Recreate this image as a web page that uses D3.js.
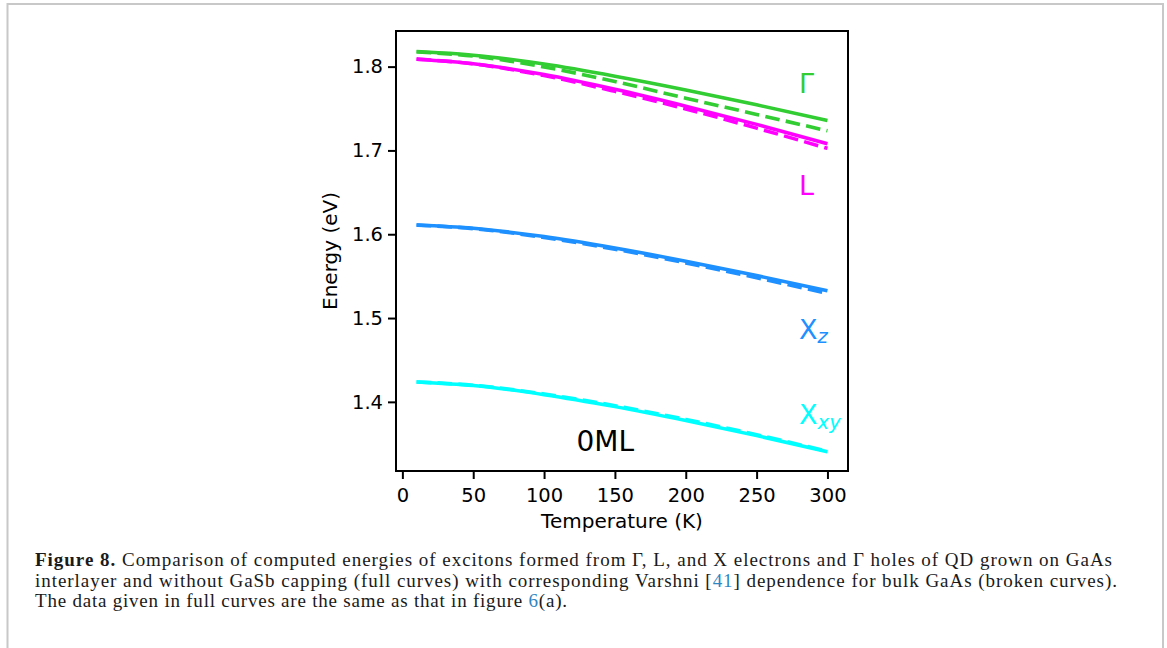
<!DOCTYPE html>
<html>
<head>
<meta charset="utf-8">
<script src="https://cdn.jsdelivr.net/npm/d3@7"></script>
<style>
  html, body { margin: 0; padding: 0; background: #fff; }
  svg { display: block; }
</style>
</head>
<body>
<svg id="chart" width="1167" height="648"></svg>
<script>
// ---------------- data ----------------
const temperatures = [10, 50, 100, 150, 200, 250, 300];

const gammaFull     = [1.8179, 1.8136, 1.8030, 1.7886, 1.7722, 1.7544, 1.7357];
const gammaVarshni  = [1.8176, 1.8126, 1.7996, 1.7822, 1.7624, 1.7430, 1.7234];
const lFull         = [1.8088, 1.8035, 1.7905, 1.7729, 1.7528, 1.7311, 1.7080];
const lVarshni      = [1.8090, 1.8033, 1.7893, 1.7705, 1.7495, 1.7266, 1.7025];
const xzFull        = [1.6110, 1.6071, 1.5972, 1.5835, 1.5678, 1.5507, 1.5325];
const xzVarshni     = [1.6110, 1.6067, 1.5961, 1.5821, 1.5658, 1.5481, 1.5293];
const xxyFull       = [1.4238, 1.4194, 1.4086, 1.3943, 1.3777, 1.3597, 1.3405];
const xxyVarshni    = [1.4238, 1.4198, 1.4094, 1.3954, 1.3790, 1.3608, 1.3410];

const xTicks = [0, 50, 100, 150, 200, 250, 300];
const yTicks = [1.4, 1.5, 1.6, 1.7, 1.8];

const seriesNames  = ["Γ", "L", "X", "X"];
const seriesSubs   = ["", "", "z", "xy"];
const seriesColors = ["#32cd32", "#ff00ff", "#1e90ff", "#00ffff"];
const fullSeries    = [gammaFull, lFull, xzFull, xxyFull];
const varshniSeries = [gammaVarshni, lVarshni, xzVarshni, xxyVarshni];

// label anchors (data coordinates)
const labelT = [280, 280, 280, 280];
const labelE = [1.7683, 1.6473, 1.4755, 1.3731];

const panelText = "0ML";
const panelT = 122.9, panelE = 1.3417;

const captionLines = [
  [{t: "Figure 8.", b: true}, {t: " Comparison of computed energies of excitons formed from Γ, L, and X electrons and Γ holes of QD grown on GaAs"}],
  [{t: "interlayer and without GaSb capping (full curves) with corresponding Varshni ["}, {t: "41", link: true}, {t: "] dependence for bulk GaAs (broken curves)."}],
  [{t: "The data given in full curves are the same as that in figure "}, {t: "6", link: true}, {t: "(a)."}]
];

// ---------------- layout ----------------
const svg = d3.select("#chart");
svg.append("rect").attr("width", 1167).attr("height", 648).attr("fill", "#fff");
svg.append("rect")
  .attr("x", 7.5).attr("y", 4).attr("width", 1155.5).attr("height", 700)
  .attr("fill", "none").attr("stroke", "#c8c8c8").attr("stroke-width", 2);

const L = 396, R = 848, T = 31, B = 471;
const x = d3.scaleLinear().domain([-4.5, 314.5]).range([L, R]);
const y = d3.scaleLinear().domain([1.3175, 1.8425]).range([B, T]);

const font = "DejaVu Sans, Verdana, sans-serif";
const g = svg.append("g");

// curves
const line = d3.line()
  .x((d, i) => x(temperatures[i]))
  .y(d => y(d))
  .curve(d3.curveMonotoneX);

for (let s = 0; s < fullSeries.length; s++) {
  g.append("path")
    .attr("d", line(fullSeries[s]))
    .attr("fill", "none")
    .attr("stroke", seriesColors[s])
    .attr("stroke-width", 3.5);
  g.append("path")
    .attr("d", line(varshniSeries[s]))
    .attr("fill", "none")
    .attr("stroke", seriesColors[s])
    .attr("stroke-width", 3.6)
    .attr("stroke-dasharray", "14.6,6.3");
}

// frame
g.append("rect")
  .attr("x", L).attr("y", T).attr("width", R - L).attr("height", B - T)
  .attr("fill", "none").attr("stroke", "#000").attr("stroke-width", 2);

// axes
const xAxis = d3.axisBottom(x).tickValues(xTicks).tickFormat(d3.format("d")).tickSize(8).tickPadding(9);
const yAxis = d3.axisLeft(y).tickValues(yTicks).tickFormat(d3.format(".1f")).tickSize(8).tickPadding(5);

const gx = svg.append("g").attr("transform", `translate(0,${B})`).call(xAxis);
const gy = svg.append("g").attr("transform", `translate(${L},0)`).call(yAxis);
[gx, gy].forEach(a => {
  a.select(".domain").remove();
  a.selectAll(".tick line").attr("stroke", "#000").attr("stroke-width", 2);
  a.selectAll(".tick text").attr("fill", "#000").style("font-family", font).style("font-size", "19.5px");
});

// axis titles
svg.append("text")
  .attr("x", (L + R) / 2).attr("y", 528)
  .attr("text-anchor", "middle")
  .style("font-family", font).style("font-size", "20px")
  .text("Temperature (K)");
svg.append("text")
  .attr("transform", `translate(337,${(T + B) / 2}) rotate(-90)`)
  .attr("text-anchor", "middle")
  .style("font-family", font).style("font-size", "20px")
  .text("Energy (eV)");

// series labels
for (let s = 0; s < seriesNames.length; s++) {
  const t = svg.append("text")
    .attr("x", x(labelT[s])).attr("y", y(labelE[s]))
    .attr("fill", seriesColors[s])
    .style("font-family", font).style("font-size", "27px");
  t.append("tspan").text(seriesNames[s]);
  if (seriesSubs[s]) {
    t.append("tspan").attr("dy", 4.5).style("font-size", "19.5px").style("font-style", "italic").text(seriesSubs[s]);
  }
}

// panel text
svg.append("text")
  .attr("x", x(panelT)).attr("y", y(panelE))
  .style("font-family", font).style("font-size", "28px")
  .text(panelText);

// caption
const capY = [565.5, 586.5, 607];
const capEnd = [1112, 1117, 567];
captionLines.forEach((parts, i) => {
  const t = svg.append("text")
    .attr("x", 35).attr("y", capY[i])
    .style("font-family", "Liberation Serif, Times New Roman, serif")
    .style("font-size", "19px")
    .attr("fill", "#1a1a1a");
  parts.forEach(p => {
    const sp = t.append("tspan").text(p.t);
    if (p.b) sp.style("font-weight", "bold");
    if (p.link) sp.attr("fill", "#2f86c2");
  });
  t.attr("textLength", capEnd[i] - 35).attr("lengthAdjust", "spacing");
});
</script>
</body>
</html>
